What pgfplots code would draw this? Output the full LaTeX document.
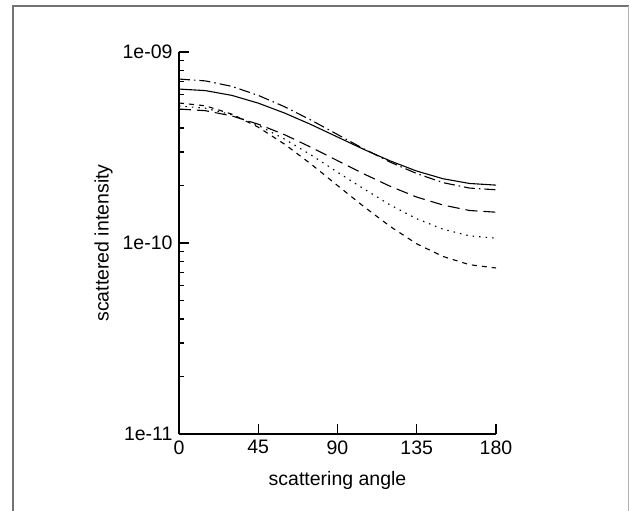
\documentclass[border=0pt]{standalone}
\usepackage{fontspec}
\setmainfont{Liberation Sans}
\usepackage{pgfplots}
\pgfplotsset{compat=1.18}

\begin{document}
\begin{tikzpicture}[x=1pt,y=1pt]
\begin{axis}[
  at={(179pt,77pt)}, anchor=south west,
  scale only axis, width=317pt, height=382pt,
  xmin=0, xmax=180, ymin=1e-11, ymax=1e-9, ymode=log,
  axis x line=bottom, axis y line=left,
  axis line style={-, line width=1.3pt},
  xtick={0,45,90,135,180},
  ytick={1e-11,1e-10,1e-9},
  yticklabels={1e-11,1e-10,1e-09},
  tick align=inside,
  major tick length=10pt, minor tick length=5pt,
  every tick/.style={black, line width=1.3pt},
  tick label style={font=\fontsize{19.5}{23}\selectfont},
  xticklabel style={yshift=-3pt},
  yticklabel style={xshift=-3pt},
  label style={font=\fontsize{19.5}{23}\selectfont},
  xlabel style={yshift=-10pt},
  ylabel style={yshift=3pt},
  /pgf/number format/assume math mode=true,
  xlabel={scattering angle}, ylabel={scattered intensity},
  clip=false,
]
% solid
\addplot[black, line width=1.1pt] coordinates {
  (0,6.40e-10) (15,6.28e-10) (30,5.93e-10) (45,5.40e-10) (60,4.79e-10)
  (75,4.17e-10) (90,3.59e-10) (105,3.09e-10) (120,2.69e-10) (135,2.38e-10)
  (150,2.17e-10) (165,2.05e-10) (180,2.01e-10)};
% dash-dot
\addplot[black, line width=1.1pt, dash pattern=on 11pt off 4pt on 1.5pt off 4pt] coordinates {
  (0,7.22e-10) (15,7.06e-10) (30,6.61e-10) (45,5.93e-10) (60,5.17e-10)
  (75,4.40e-10) (90,3.70e-10) (105,3.11e-10) (120,2.65e-10) (135,2.31e-10)
  (150,2.07e-10) (165,1.94e-10) (180,1.90e-10)};
% long dashed
\addplot[black, line width=1.1pt, dash pattern=on 12pt off 6pt] coordinates {
  (0,5.03e-10) (15,4.93e-10) (30,4.63e-10) (45,4.19e-10) (60,3.69e-10)
  (75,3.17e-10) (90,2.70e-10) (105,2.30e-10) (120,1.98e-10) (135,1.74e-10)
  (150,1.58e-10) (165,1.48e-10) (180,1.45e-10)};
% dotted
\addplot[black, line width=1.1pt, dash pattern=on 1.5pt off 5pt] coordinates {
  (0,5.22e-10) (15,5.08e-10) (30,4.69e-10) (45,4.13e-10) (60,3.50e-10)
  (75,2.89e-10) (90,2.35e-10) (105,1.92e-10) (120,1.58e-10) (135,1.34e-10)
  (150,1.18e-10) (165,1.09e-10) (180,1.06e-10)};
% short dashed
\addplot[black, line width=1.1pt, dash pattern=on 5pt off 5pt] coordinates {
  (0,5.41e-10) (15,5.23e-10) (30,4.73e-10) (45,4.04e-10) (60,3.29e-10)
  (75,2.59e-10) (90,2.00e-10) (105,1.55e-10) (120,1.22e-10) (135,0.99e-10)
  (150,0.85e-10) (165,0.77e-10) (180,0.74e-10)};
\end{axis}
\draw[black!55, line width=2pt] (12.5,-10) -- (12.5,504.5) -- (628.5,504.5);
\draw[black!30, line width=1.5pt] (628.5,504.5) -- (628.5,-10);
\pgfresetboundingbox
\useasboundingbox (0,0) rectangle (630,511);
\end{tikzpicture}
\end{document}
